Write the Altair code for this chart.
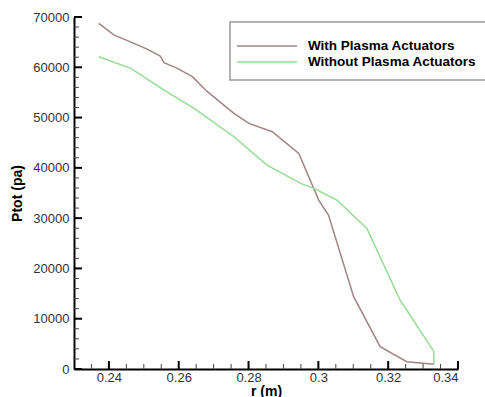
import altair as alt
import pandas as pd

# With Plasma Actuators
r_with = [0.2371, 0.2415, 0.2472, 0.2511, 0.2547, 0.2558, 0.2596, 0.2639, 0.2682,
          0.2758, 0.2801, 0.2868, 0.2944, 0.3001, 0.3029, 0.3101, 0.3177, 0.3253, 0.3331]
p_with = [68750, 66400, 64760, 63570, 62240, 60910, 59790, 58130, 55150,
          50840, 48850, 47190, 42880, 33600, 30620, 14380, 4430, 1450, 930]

# Without Plasma Actuators
r_without = [0.2371, 0.2463, 0.2558, 0.2644, 0.2758, 0.2853, 0.2949, 0.2987, 0.3053,
             0.3139, 0.3234, 0.3331, 0.3331]
p_without = [62110, 59790, 55480, 51830, 46190, 40560, 36920, 35930, 33600,
             27970, 13720, 3440, 930]

series_names = ["With Plasma Actuators", "Without Plasma Actuators"]
series_colors = ["#a08484", "#94dc94"]

x_major = [0.24, 0.26, 0.28, 0.30, 0.32, 0.34]
x_minor = [0.235, 0.245, 0.25, 0.255, 0.265, 0.27, 0.275, 0.285, 0.29, 0.295,
           0.305, 0.31, 0.315, 0.325, 0.33, 0.335]
y_major = [0, 10000, 20000, 30000, 40000, 50000, 60000, 70000]
y_minor = [2000, 4000, 6000, 8000, 12000, 14000, 16000, 18000, 22000, 24000, 26000, 28000,
           32000, 34000, 36000, 38000, 42000, 44000, 46000, 48000, 52000, 54000, 56000, 58000,
           62000, 64000, 66000, 68000]

rows = []
for i, (r, p) in enumerate(zip(r_with, p_with)):
    rows.append({"r": r, "p": p, "series": series_names[0], "order": i})
for i, (r, p) in enumerate(zip(r_without, p_without)):
    rows.append({"r": r, "p": p, "series": series_names[1], "order": i})
df = pd.DataFrame(rows)

W, H = 384, 352
FONT = "Liberation Sans"
X0, X1, Y0, Y1 = 0.23, 0.34, 0, 70000
xscale = alt.Scale(domain=[X0, X1], nice=False, zero=False)
yscale = alt.Scale(domain=[Y0, Y1], nice=False)
cscale = alt.Scale(domain=series_names, range=series_colors)

# tick lengths (8 px major, 5 px minor) expressed in data units
dx_maj, dx_min = (X1 - X0) * 8 / W, (X1 - X0) * 5 / W
dy_maj, dy_min = (Y1 - Y0) * 8 / H, (Y1 - Y0) * 5 / H

lines = alt.Chart(df).mark_line(strokeWidth=1.5).encode(
    x=alt.X("r:Q", scale=xscale, title="r (m)",
            axis=alt.Axis(values=x_major, format="~g", ticks=False, grid=False,
                          domainColor="black", domainWidth=2,
                          labelFont=FONT, labelFontSize=13, labelColor="#333333",
                          labelPadding=2, titleFont=FONT, titleFontSize=14,
                          titleFontWeight="bold", titleColor="black", titlePadding=0)),
    y=alt.Y("p:Q", scale=yscale, title="Ptot (pa)",
            axis=alt.Axis(values=y_major, format="d", ticks=False, grid=False,
                          domainColor="black", domainWidth=2,
                          labelFont=FONT, labelFontSize=13, labelColor="#333333",
                          labelPadding=5, titleFont=FONT, titleFontSize=14,
                          titleFontWeight="bold", titleColor="black", titlePadding=8)),
    color=alt.Color("series:N", scale=cscale, legend=None),
    order="order:Q",
)

def xticks(vals, d, w, col):
    return alt.Chart(pd.DataFrame({"tv": vals})).mark_rule(strokeWidth=w, color=col).encode(
        x=alt.X("tv:Q", scale=xscale), y=alt.datum(Y0), y2=alt.datum(Y0 + d))

def yticks(vals, d, w, col):
    return alt.Chart(pd.DataFrame({"tv": vals})).mark_rule(strokeWidth=w, color=col).encode(
        y=alt.Y("tv:Q", scale=yscale), x=alt.datum(X0), x2=alt.datum(X0 + d))

ticks = [xticks(x_minor, dy_min, 1, "#444444"), xticks(x_major, dy_maj, 2, "black"),
         yticks(y_minor, dx_min, 1, "#444444"), yticks(y_major, dx_maj, 2, "black")]

# manual legend box + entries
leg = [alt.Chart(pd.DataFrame({"a": [0]})).mark_rect(
    fill="white", stroke="#999999", strokeWidth=1.5).encode(
    x=alt.value(156), x2=alt.value(420), y=alt.value(5), y2=alt.value(63))]
for i, (name, col) in enumerate(zip(series_names, series_colors)):
    yy = 29 + 16 * i
    leg.append(alt.Chart(pd.DataFrame({"a": [0]})).mark_rule(strokeWidth=1.5, color=col).encode(
        x=alt.value(163), x2=alt.value(223), y=alt.value(yy)))
    leg.append(alt.Chart(pd.DataFrame({"a": [0]})).mark_text(
        align="left", baseline="middle", font=FONT, fontSize=13.5, fontWeight="bold",
        color="black").encode(x=alt.value(234), y=alt.value(yy), text=alt.value(name)))

chart = alt.layer(lines, *ticks, *leg).properties(
    width=W, height=H,
    autosize=alt.AutoSizeParams(type="none"),
    padding={"left": 74, "top": 17, "right": 27, "bottom": 28},
    background="white",
).configure_view(stroke=None)

chart.save("out.html", embed_options={"renderer": "svg", "actions": False})
